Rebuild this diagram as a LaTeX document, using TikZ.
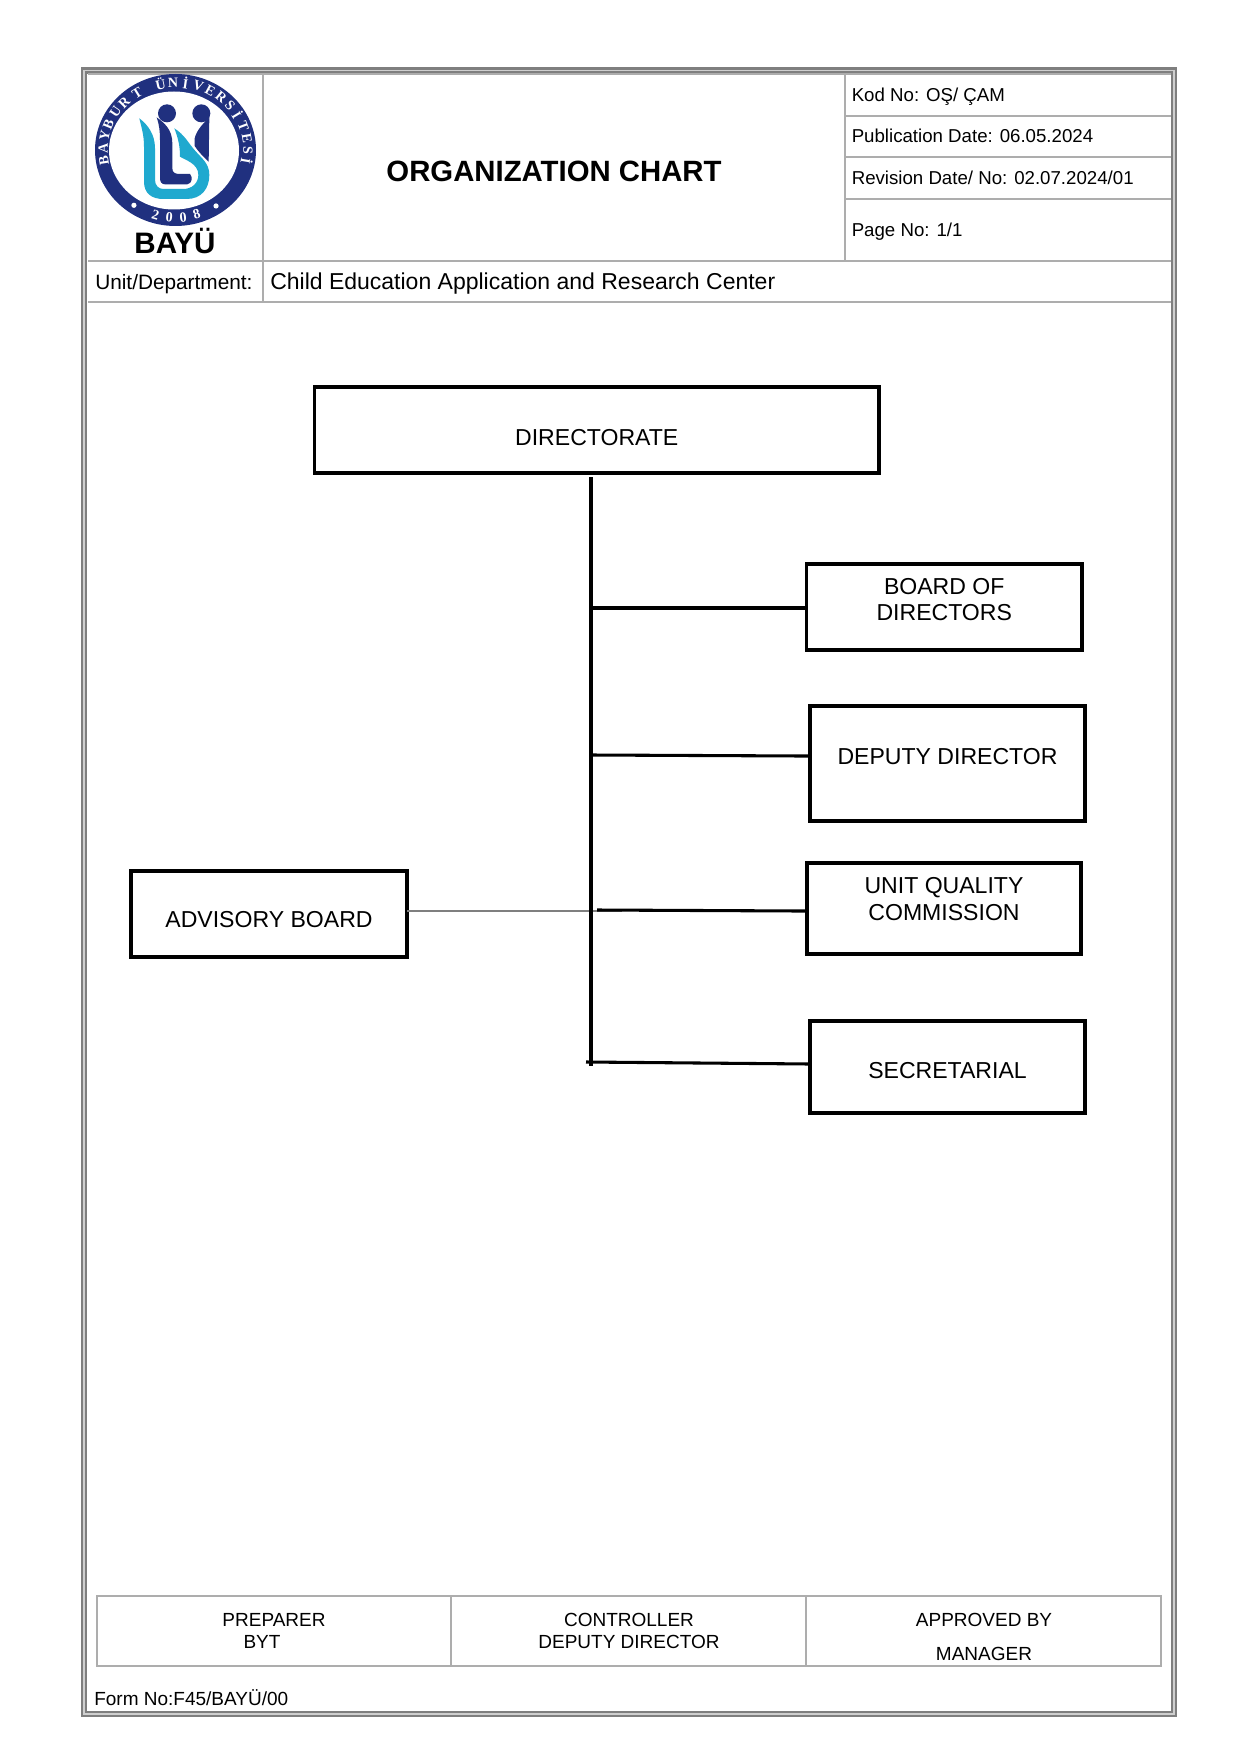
\documentclass[tikz,border=0pt]{standalone}
\usepackage{fontspec}
\setmainfont{Liberation Sans}
\newfontfamily\logoserif{Liberation Serif}
\definecolor{framegrey}{HTML}{7F7F7F}
\definecolor{framelight}{HTML}{CFCFCF}
\definecolor{cellgrey}{HTML}{ADADAD}
\definecolor{logonavy}{HTML}{20307F}
\definecolor{logocyan}{HTML}{1FA9CF}
\newcommand{\orgtext}[2]{\raisebox{#1}[0pt][0pt]{\def\arraystretch{1}\begin{tabular}[t]{@{}c@{}}#2\end{tabular}}}
\tikzset{
  x=0.75pt,y=-0.75pt,
  orgbox/.style={draw=black,line width=2.35pt,fill=white,inner sep=0pt,outer sep=0pt,font=\fontsize{17.3}{20}\selectfont},
  trunkline/.style={draw=black,line width=2.3pt},
  grline/.style={draw=framegrey,line width=1pt},
  cell/.style={draw=cellgrey,line width=1.4pt},
  small/.style={inner sep=0pt,font=\fontsize{14}{16}\selectfont},
  foot/.style={inner sep=0pt,font=\fontsize{14.25}{16}\selectfont},
  mid/.style={inner sep=0pt,font=\fontsize{15.6}{18}\selectfont},
  ringletter/.style={inner sep=0pt,text=white,font=\logoserif\bfseries\fontsize{10.5}{12}\selectfont},
}
\begin{document}
\begin{tikzpicture}
\useasboundingbox (0,0) rectangle (1240,1755);
\fill[white] (0,0) rectangle (1240,1755);
% outer frame
\draw[framegrey,line width=4.6pt] (84,70.5) rectangle (1174,1714);
\draw[framelight,line width=1.2pt] (84,70.5) rectangle (1174,1714);
% header table
\draw[cell] (88,74) -- (1171,74);
\draw[cell] (88,261) -- (1171,261);
\draw[cell] (88,302) -- (1171,302);
\draw[cell] (263,74) -- (263,302);
\draw[cell] (845,74) -- (845,261);
\draw[cell] (845,116) -- (1171,116);
\draw[cell] (845,157) -- (1171,157);
\draw[cell] (845,199) -- (1171,199);
% logo
\fill[logonavy] (175.5,150) ellipse [x radius=80.5,y radius=76];
\fill[white] (174,150.5) ellipse [x radius=65,y radius=59];
\foreach \i/\c/\a in {1/B/189,2/A/178.5,3/Y/168,4/B/157.5,5/U/146,6/R/135,7/T/122,8/Ü/102,9/N/92,10/İ/82,11/V/71.6,12/E/61.4,13/R/51,14/S/41,15/İ/31,16/T/20.5,17/E/10,18/S/0,19/İ/-10}
  \node[ringletter,rotate=\a-90] (ring\i) at ({175.5+72.5*cos(\a)},{150-67.5*sin(\a)}) {\c};
\foreach \i/\c/\a in {1/2/254,2/0/265,3/0/276,4/8/287}
  \node[ringletter,rotate=\a+90] (yr\i) at ({175.5+72.5*cos(\a)},{150-67.5*sin(\a)}) {\c};
\fill[white] ({175.5+72.5*cos(235)},{150-67.5*sin(235)}) circle [radius=2.6];
\fill[white] ({175.5+72.5*cos(304)},{150-67.5*sin(304)}) circle [radius=2.6];
\begin{scope}[shift={(70,60)},x=0.25pt,y=-0.25pt]
  \fill[logonavy] (291,160) circle [radius=27];
  \fill[logonavy] (394,160) circle [radius=27];
  % cyan bowl
  \fill[logocyan] (208,175) .. controls (215,205) and (222,225) .. (222,260)
     -- (222,365) .. controls (222,400) and (245,417) .. (280,417)
     -- (350,417) .. controls (395,417) and (418,385) .. (418,345)
     .. controls (418,310) and (395,295) .. (378,275)
     .. controls (355,250) and (345,225) .. (313,205)
     .. controls (325,235) and (330,260) .. (330,290)
     .. controls (345,300) and (385,310) .. (385,345)
     .. controls (385,370) and (365,387) .. (340,387)
     -- (280,387) .. controls (265,387) and (255,375) .. (255,360)
     -- (255,265) .. controls (255,225) and (235,195) .. (208,175) -- cycle;
  % navy L
  \fill[logonavy] (260,172) .. controls (285,190) and (307,210) .. (307,250)
     -- (307,325) .. controls (307,338) and (315,342) .. (330,342)
     -- (360,342) .. controls (368,350) and (368,370) .. (352,373)
     -- (285,373) .. controls (275,373) and (270,365) .. (270,355)
     -- (270,240) .. controls (270,215) and (268,195) .. (260,172) -- cycle;
  % navy wing
  \fill[logonavy] (418,172) -- (416,305) .. controls (400,290) and (385,275) .. (374,258)
     -- (374,235) .. controls (380,210) and (400,190) .. (418,172) -- cycle;
\end{scope}
\node[inner sep=0pt,anchor=base,font=\bfseries\fontsize{22.2}{24}\selectfont] (bayu) at (175,253) {BAYÜ};
% header text
\node[inner sep=0pt,anchor=base,font=\bfseries\fontsize{22}{24}\selectfont] (title) at (554,182) {ORGANIZATION CHART};
\node[small,anchor=base west] (kod) at (851.5,102) {Kod No: OŞ/ ÇAM};
\node[small,anchor=base west] (pub) at (851.5,143) {Publication Date: 06.05.2024};
\node[small,anchor=base west] (rev) at (851.5,185) {Revision Date/ No: 02.07.2024/01};
\node[small,anchor=base west] (pg) at (851.5,237) {Page No: 1/1};
\node[mid,anchor=base west] (unit) at (95,289) {Unit/Department:};
\node[inner sep=0pt,anchor=base west,font=\fontsize{17.25}{20}\selectfont] (unitname) at (270,289) {Child Education Application and Research Center};
% boxes
\node[orgbox,minimum width=423.4pt,minimum height=64.5pt] (dir) at (596.75,430) {\orgtext{-11.25pt}{DIRECTORATE}};
\node[orgbox,minimum width=206.6pt,minimum height=64.5pt] (board) at (944.25,607) {\orgtext{9.75pt}{BOARD OF\\DIRECTORS}};
\node[orgbox,minimum width=206.25pt,minimum height=86.25pt] (deputy) at (947.5,763.5) {\orgtext{-0.4pt}{DEPUTY DIRECTOR}};
\node[orgbox,minimum width=205.5pt,minimum height=68.25pt] (uqc) at (944,908.5) {\orgtext{10.9pt}{UNIT QUALITY\\COMMISSION}};
\node[orgbox,minimum width=206.25pt,minimum height=69pt] (sec) at (947.5,1067) {\orgtext{-8.25pt}{SECRETARIAL}};
\node[orgbox,minimum width=207pt,minimum height=64.5pt] (adv) at (269,914) {\orgtext{-9.75pt}{ADVISORY BOARD}};
% connectors
\coordinate (trunktop) at (591,477);
\coordinate (trunkbot) at (591,1066);
\coordinate (j1) at (591,608);
\coordinate (j2) at (591,755);
\coordinate (j3) at (597,910);
\coordinate (j4) at (586,1062);
\coordinate (gr) at (622,911);
\draw[grline] ([yshift=2.25pt]adv.east) -- (gr);
\draw[trunkline] (trunktop) -- (trunkbot);
\draw[trunkline] (j1) -- ([yshift=-0.75pt]board.west);
\draw[trunkline] (j2) -- ([yshift=5.6pt]deputy.west);
\draw[trunkline] (j3) -- ([yshift=-1.9pt]uqc.west);
\draw[trunkline] (j4) -- ([yshift=2.25pt]sec.west);
% footer table
\draw[cell] (97,1596) rectangle (1161,1666);
\draw[cell] (451,1596) -- (451,1666);
\draw[cell] (806,1596) -- (806,1666);
\node[foot,anchor=base] (p1) at (274,1626) {PREPARER};
\node[foot,anchor=base] (p2) at (262,1648) {BYT};
\node[foot,anchor=base] (c1) at (629,1626) {CONTROLLER};
\node[foot,anchor=base] (c2) at (629,1648) {DEPUTY DIRECTOR};
\node[foot,anchor=base] (a1) at (984,1626) {APPROVED BY};
\node[foot,anchor=base] (a2) at (984,1660) {MANAGER};
\node[foot,anchor=base west] (form) at (94,1705) {Form No:F45/BAYÜ/00};
\end{tikzpicture}
\end{document}
